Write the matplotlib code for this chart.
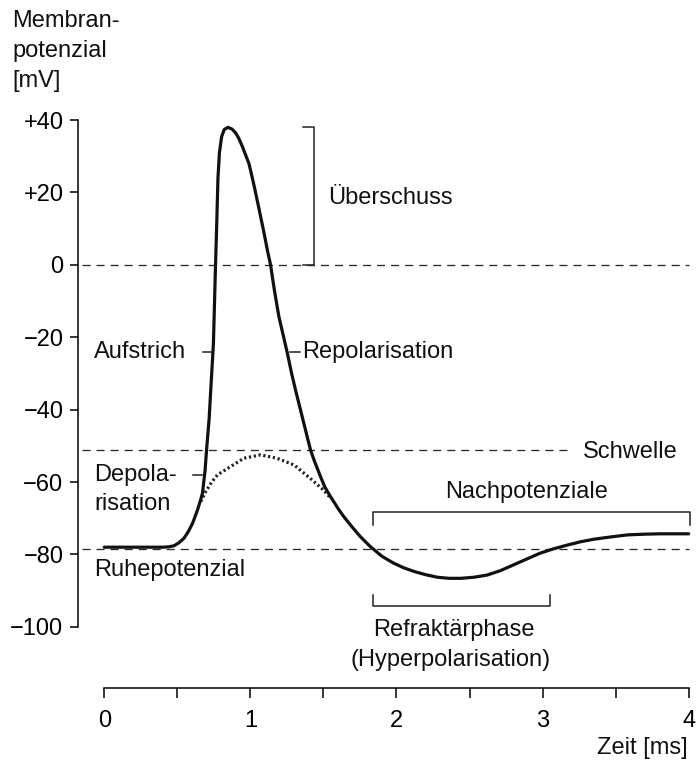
import matplotlib
matplotlib.use("Agg")
import matplotlib.pyplot as plt

plt.rcParams['font.family'] = ['Liberation Sans', 'DejaVu Sans']
plt.rcParams['lines.scale_dashes'] = False

# ---- data (time in ms, membrane potential in mV) ----
ap_t = [0.0, 0.2, 0.40, 0.44, 0.478, 0.51, 0.546, 0.575, 0.604, 0.62, 0.638, 0.655,
        0.672, 0.69, 0.70, 0.717, 0.747, 0.761, 0.770, 0.778, 0.788, 0.803, 0.821,
        0.847, 0.875, 0.9, 0.92, 0.945, 0.965, 0.99, 1.01, 1.03, 1.05, 1.07, 1.09,
        1.116, 1.138, 1.165, 1.195, 1.225, 1.253, 1.28, 1.309, 1.34, 1.366, 1.39,
        1.412, 1.44, 1.48, 1.51, 1.548, 1.60, 1.64, 1.70, 1.753, 1.82, 1.90, 1.98,
        2.05, 2.12, 2.20, 2.28, 2.36, 2.44, 2.53, 2.62, 2.71, 2.80, 2.89, 2.98,
        3.07, 3.17, 3.26, 3.35, 3.46, 3.58, 3.70, 3.80, 4.0]
ap_v = [-78, -78, -78, -77.9, -77.6, -76.8, -75.5, -73.7, -71.4, -69.7, -67.7, -65.5,
        -63.1, -56.7, -51.1, -42.8, -21.6, -0.5, 12.0, 24.0, 31.0, 35.4, 37.4,
        38.0, 37.5, 36.4, 35.0, 32.7, 30.6, 28.0, 24.6, 21.0, 17.2, 13.3, 9.5,
        4.1, 0.0, -7.2, -14.3, -19.5, -24.4, -29.6, -34.6, -39.6, -43.8, -47.7,
        -51.2, -54.4, -58.5, -61.4, -64.0, -67.3, -69.6, -72.6, -75.1, -77.8, -80.5, -82.4,
        -83.7, -84.7, -85.6, -86.3, -86.6, -86.6, -86.3, -85.7, -84.5, -82.9, -81.3, -79.7,
        -78.5, -77.4, -76.5, -75.8, -75.2, -74.6, -74.4, -74.3, -74.3]

sub_t = [0.66, 0.695, 0.735, 0.775, 0.865, 0.956, 1.07, 1.18, 1.30, 1.41, 1.50, 1.548]
sub_v = [-65.4, -62.6, -60.0, -58.0, -55.7, -53.4, -52.5, -53.4, -55.3, -59.0, -62.2, -64.4]

rest_mv = -78.5
threshold_mv = -51.2
zero_mv = 0

y_ticks = [40, 20, 0, -20, -40, -60, -80, -100]
y_labels = ['+40', '+20', '0', '\u221220', '\u221240', '\u221260', '\u221280', '\u2212100']
x_ticks = [0, 0.5, 1, 1.5, 2, 2.5, 3, 3.5, 4]
x_labels = ['0', '', '1', '', '2', '', '3', '', '4']

FS = 17

fig = plt.figure(figsize=(7.0, 7.66), dpi=100)
ax = fig.add_axes([78 / 700, 1 - 688 / 766, (696 - 78) / 700, (688 - 102) / 766])
ax.set_xlim(-0.18, 4.05)
ax.set_ylim(-116.9, 45)

for s in ['top', 'right']:
    ax.spines[s].set_visible(False)
ax.spines['left'].set_bounds(-100, 40)
ax.spines['bottom'].set_bounds(0, 4)
ax.spines['left'].set_linewidth(1.1)
ax.spines['bottom'].set_linewidth(1.1)

ax.set_yticks(y_ticks)
ax.set_yticklabels(y_labels)
ax.set_xticks(x_ticks)
ax.set_xticklabels(x_labels)
ax.tick_params(axis='y', length=6, width=1.1, pad=4.5, labelsize=FS)
ax.tick_params(axis='x', length=7.5, width=1.1, pad=8, labelsize=FS)

dash = dict(color='#2a2a2a', lw=0.95, dashes=(5.8, 4.3))
ax.plot([-0.15, 4.0], [zero_mv, zero_mv], **dash)
ax.plot([-0.15, 3.17], [threshold_mv, threshold_mv], **dash)
ax.plot([-0.15, 4.0], [rest_mv, rest_mv], **dash)

ax.plot(sub_t, sub_v, color='#222222', lw=2.3, dashes=(1.6, 1.9), dash_capstyle='butt')
ax.plot(ap_t, ap_v, color='#111111', lw=2.3, solid_joinstyle='round', solid_capstyle='round')

thin = dict(color='#222222', lw=1.1)
# Überschuss bracket
ax.plot([1.357, 1.432, 1.432, 1.357], [38.1, 38.1, 0, 0], **thin)
# Nachpotenziale bracket
ax.plot([1.84, 1.84, 4.007, 4.007], [-71.8, -68.3, -68.3, -71.8], **thin)
# Refraktärphase bracket
ax.plot([1.84, 1.84, 3.05, 3.05], [-91.2, -94.2, -94.2, -91.2], **thin)
# label leader ticks
ax.plot([0.674, 0.729], [-24, -24], **thin)
ax.plot([1.268, 1.337], [-24, -24], **thin)
ax.plot([0.604, 0.672], [-58, -58], **thin)

txt = dict(fontsize=FS, color='#111111', va='center', ha='left')
ax.text(1.535, 18.5, 'Überschuss', **txt)
ax.text(-0.07, -24, 'Aufstrich', **txt)
ax.text(1.357, -24, 'Repolarisation', **txt)
ax.text(-0.07, -58, 'Depola-', **txt)
ax.text(-0.07, -66, 'risation', **txt)
ax.text(-0.07, -84.3, 'Ruhepotenzial', **txt)
ax.text(3.277, -51.7, 'Schwelle', **txt)
ax.text(2.334, -62.7, 'Nachpotenziale', **txt)
ax.text(1.84, -100.8, 'Refraktärphase', **txt)
ax.text(1.685, -109.1, '(Hyperpolarisation)', **txt)
ax.text(3.99, -133.4, 'Zeit [ms]', fontsize=FS, color='#111111', va='center', ha='right',
        clip_on=False)

for i, line in enumerate(['Membran-', 'potenzial', '[mV]']):
    fig.text(12 / 700, 1 - (21 + 30 * i) / 766, line, fontsize=FS, color='#111111',
             va='center', ha='left')

fig.savefig('out.png', dpi=100)
